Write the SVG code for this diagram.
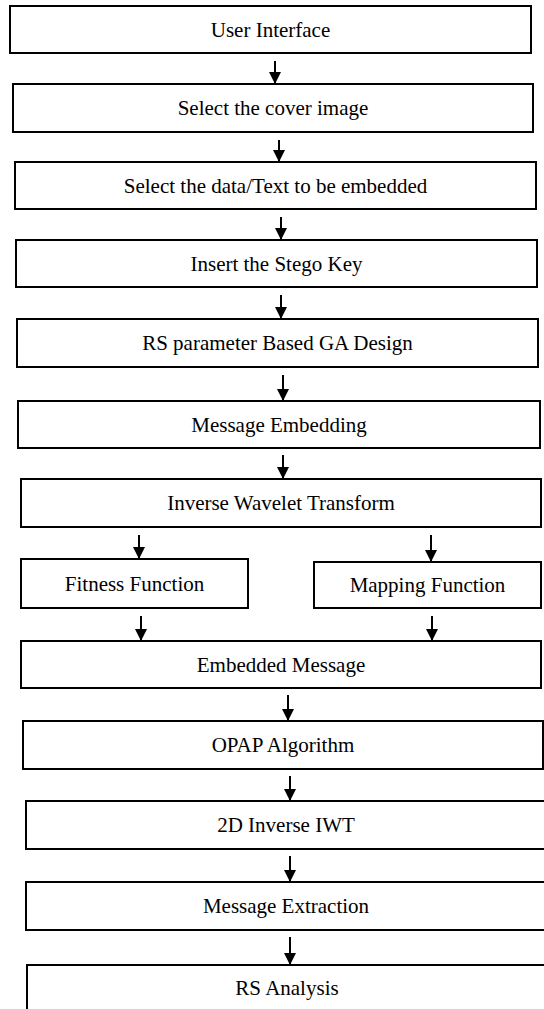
<svg xmlns="http://www.w3.org/2000/svg" width="544" height="1009" viewBox="0 0 544 1009">
  <defs>
    <marker id="arrow" markerUnits="userSpaceOnUse" markerWidth="12" markerHeight="12" refX="12" refY="6" orient="auto">
      <path d="M0,0 L12,6 L0,12 z" fill="#000"/>
    </marker>
    <style>
      .box { fill: #fff; stroke: #000; stroke-width: 2; }
      .label { font-family: "Liberation Serif", "Times New Roman", serif; font-size: 21px; fill: #000; text-anchor: middle; }
      .conn { stroke: #000; stroke-width: 2; fill: none; marker-end: url(#arrow); }
    </style>
  </defs>
  <rect width="544" height="1009" fill="#fff"/>

  <!-- connectors -->
  <g id="connectors">
    <path class="conn" d="M275,61 V84"/>
    <path class="conn" d="M279,140 V162"/>
    <path class="conn" d="M281,217 V240"/>
    <path class="conn" d="M281,295 V319"/>
    <path class="conn" d="M283,375 V401"/>
    <path class="conn" d="M283,455 V479"/>
    <path class="conn" d="M139,535 V559"/>
    <path class="conn" d="M431,535 V562"/>
    <path class="conn" d="M141,616 V641"/>
    <path class="conn" d="M432,616 V641"/>
    <path class="conn" d="M288,695 V721"/>
    <path class="conn" d="M290,776 V801"/>
    <path class="conn" d="M290,856 V882"/>
    <path class="conn" d="M290,937 V965"/>
  </g>

  <!-- process steps -->
  <g id="user-interface">
    <rect class="box" x="10" y="6" width="521" height="47"/>
    <text class="label" x="270.5" y="36.5">User Interface</text>
  </g>
  <g id="select-cover">
    <rect class="box" x="13" y="84" width="520" height="48"/>
    <text class="label" x="273" y="115">Select the cover image</text>
  </g>
  <g id="select-data">
    <rect class="box" x="15" y="162" width="521" height="47"/>
    <text class="label" x="275.5" y="192.5">Select the data/Text to be embedded</text>
  </g>
  <g id="stego-key">
    <rect class="box" x="16" y="240" width="521" height="47"/>
    <text class="label" x="276.5" y="270.5">Insert the Stego Key</text>
  </g>
  <g id="ga-design">
    <rect class="box" x="17" y="319" width="521" height="48"/>
    <text class="label" x="277.5" y="350">RS parameter Based GA Design</text>
  </g>
  <g id="message-embedding">
    <rect class="box" x="18" y="401" width="522" height="47"/>
    <text class="label" x="279" y="431.5">Message Embedding</text>
  </g>
  <g id="inverse-wavelet">
    <rect class="box" x="21" y="479" width="520" height="48"/>
    <text class="label" x="281" y="510">Inverse Wavelet Transform</text>
  </g>
  <g id="fitness-function">
    <rect class="box" x="21" y="559" width="227" height="49"/>
    <text class="label" x="134.5" y="590.5">Fitness Function</text>
  </g>
  <g id="mapping-function">
    <rect class="box" x="314" y="562" width="227" height="46"/>
    <text class="label" x="427.5" y="592">Mapping Function</text>
  </g>
  <g id="embedded-message">
    <rect class="box" x="21" y="641" width="520" height="47"/>
    <text class="label" x="281" y="671.5">Embedded Message</text>
  </g>
  <g id="opap">
    <rect class="box" x="23" y="721" width="520" height="48"/>
    <text class="label" x="283" y="752">OPAP Algorithm</text>
  </g>
  <g id="inverse-iwt">
    <rect class="box" x="26" y="801" width="520" height="48"/>
    <text class="label" x="286" y="832">2D Inverse IWT</text>
  </g>
  <g id="message-extraction">
    <rect class="box" x="26" y="882" width="520" height="48"/>
    <text class="label" x="286" y="913">Message Extraction</text>
  </g>
  <g id="rs-analysis">
    <rect class="box" x="27" y="965" width="520" height="60"/>
    <text class="label" x="287" y="995">RS Analysis</text>
  </g>
</svg>
